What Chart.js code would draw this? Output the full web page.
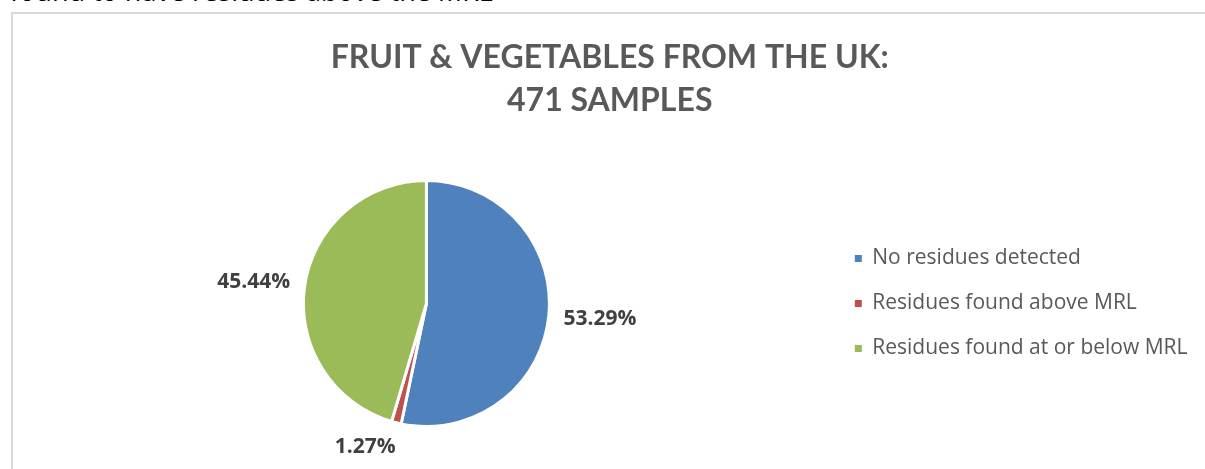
<!DOCTYPE html>
<html>
<head>
<meta charset="utf-8">
<script src="https://cdn.jsdelivr.net/npm/chart.js@4/dist/chart.umd.min.js"></script>
<style>
  body { margin: 0; width: 1205px; height: 469px; overflow: hidden; position: relative; background: #fff; }
  .intro { position: absolute; left: 10px; top: -23px; font: 27px/27px 'Open Sans', sans-serif; color: #000; white-space: nowrap; }
  .chart-box { position: absolute; left: 11px; top: 12px; width: 1250px; height: 520px; border: 2px solid #d9d9d9; box-sizing: border-box; }
  .chart-wrap { position: absolute; left: 12px; top: 15px; width: 1193px; height: 454px; }
</style>
</head>
<body>
<div class="intro">found to have residues above the MRL</div>
<div class="chart-box"></div>
<div class="chart-wrap"><canvas class="samples__chart"></canvas></div>
<script>
const samplesData = [
  { label: 'No residues detected', count: 251, color: '#4f81bd', nudge: 0 },
  { label: 'Residues found above MRL', count: 6, color: '#c0504d', nudge: -20 },
  { label: 'Residues found at or below MRL', count: 214, color: '#9bbb59', nudge: 0 },
];

// percentage labels sitting just outside each slice, like Excel's "outside end"
const outsideLabels = {
  id: 'outsideLabels',
  afterDatasetsDraw(chart) {
    const { ctx } = chart;
    const values = chart.data.datasets[0].data;
    const total = values.reduce((a, b) => a + b, 0);
    ctx.save();
    ctx.font = "bold 21px 'Open Sans'";
    ctx.fillStyle = '#404040';
    ctx.textAlign = 'center';
    ctx.textBaseline = 'middle';
    chart.getDatasetMeta(0).data.forEach((arc, index) => {
      const { x, y, startAngle, endAngle, outerRadius } = arc.getProps(['x', 'y', 'startAngle', 'endAngle', 'outerRadius'], true);
      const mid = (startAngle + endAngle) / 2;
      const text = ((values[index] / total) * 100).toFixed(2) + '%';
      const w = ctx.measureText(text).width;
      const h = 20;
      const dist = outerRadius + 15;
      const tx = x + Math.cos(mid) * (dist + w / 2) + samplesData[index].nudge;
      const ty = y + Math.sin(mid) * (dist + h / 2);
      ctx.fillText(text, tx, ty);
    });
    ctx.restore();
  },
};

function displaySamplesChart() {
  const chartContainer = document.querySelector('.samples__chart');
  const labels = samplesData.map((data) => data.label);
  const counts = samplesData.map((data) => data.count);
  const colors = samplesData.map((data) => data.color);

  Chart.defaults.font.family = "'Open Sans', sans-serif";
  Chart.defaults.color = '#595959';

  const chart = new Chart(chartContainer, {
    type: 'pie',
    data: {
      labels: labels,
      datasets: [
        {
          data: counts,
          backgroundColor: colors,
          borderColor: '#ffffff',
          borderWidth: 3,
          hoverBorderWidth: 3,
          hoverOffset: 0,
        },
      ],
    },
    options: {
      responsive: true,
      maintainAspectRatio: false,
      animation: false,
      events: [],
      layout: {
        padding: { left: 10, right: 7.5, top: 0, bottom: 41 },
      },
      plugins: {
        title: {
          display: true,
          text: ['FRUIT & VEGETABLES FROM THE UK:', '471 SAMPLES'],
          color: '#595959',
          font: { family: 'Lato', size: 32, weight: 'bold', lineHeight: 1.356 },
          padding: { top: 20.6, bottom: 56.6 },
        },
        legend: {
          position: 'right',
          fullSize: false,
          labels: {
            boxWidth: 7,
            boxHeight: 7,
            padding: 24,
            color: '#595959',
            font: { size: 21 },
            generateLabels(c) {
              return Chart.overrides.pie.plugins.legend.labels.generateLabels(c).map((item) => ({
                ...item,
                lineWidth: 0,
                strokeStyle: 'rgba(0,0,0,0)',
              }));
            },
          },
        },
        tooltip: { enabled: false },
      },
    },
    plugins: [outsideLabels],
  });
}

displaySamplesChart();
</script>
</body>
</html>
